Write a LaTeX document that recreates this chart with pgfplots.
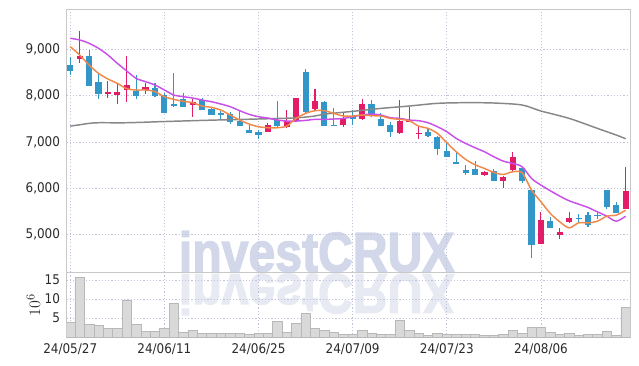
\documentclass[border=0pt]{standalone}
\usepackage{fontspec}
\setmainfont{DejaVu Sans Condensed}
\newfontfamily\wmfont{Liberation Sans Bold}[FakeBold=2.5]
\usepackage{pgfplots}
\usepackage{pgfplotstable}
\pgfplotsset{compat=1.18}
\definecolor{cred}{HTML}{E31C68}
\definecolor{cblue}{HTML}{3396C8}
\definecolor{corange}{HTML}{F0884A}
\definecolor{cpurple}{HTML}{C850E8}
\definecolor{cgray}{HTML}{878787}
\definecolor{axisgray}{HTML}{C8C8C8}
\definecolor{gridc}{HTML}{BEC3DA}
\definecolor{tickc}{HTML}{2A2A2A}
\definecolor{volfill}{HTML}{D9D9D9}
\definecolor{voldraw}{HTML}{B8B8B8}
\definecolor{wm}{HTML}{D2D8EA}
\definecolor{wmtwo}{HTML}{E7E9F3}

% down candles (blue)
\pgfplotstableread{
i o h l c
0 8661 8827 8438 8524
2 8856 8986 8214 8214
3 8294 8467 7933 8034
7 8099 8438 7933 7998
9 8164 8272 7977 7998
10 8013 8049 7631 7631
11 7818 8488 7760 7775
12 7919 8049 7746 7760
14 7905 7941 7688 7696
15 7703 7746 7573 7580
16 7623 7659 7487 7580
17 7602 7652 7393 7436
18 7450 7667 7335 7342
19 7256 7357 7198 7198
20 7213 7256 7061 7148
22 7472 7883 7306 7342
25 8510 8568 7616 7645
27 7868 7883 7342 7342
28 7370 7724 7336 7340
30 7559 7688 7357 7487
32 7818 7905 7544 7559
33 7494 7616 7342 7342
34 7364 7436 7112 7220
38 7213 7270 7097 7126
39 7105 7126 6708 6852
40 6802 6968 6679 6679
41 6557 6751 6514 6528
42 6391 6492 6290 6333
43 6413 6593 6290 6290
45 6377 6413 6153 6153
48 6442 6442 6117 6153
49 5959 5959 4503 4769
51 5288 5382 5144 5144
54 5350 5440 5281 5328
55 5418 5490 5166 5216
56 5420 5476 5346 5398
57 5959 5959 5541 5598
58 5634 5692 5454 5454
}\downT

% up candles (red)
\pgfplotstableread{
i o h l c
1 8791 9389 8712 8856
4 8034 8315 7955 8078
5 8020 8250 7825 8078
6 8121 8856 7854 8229
8 8121 8272 8041 8186
13 7804 7919 7544 7854
21 7220 7400 7205 7357
23 7321 7688 7306 7443
24 7458 7948 7458 7948
26 7710 8135 7688 7883
29 7364 7616 7328 7501
31 7487 7933 7472 7818
35 7198 7905 7169 7450
36 7436 7746 7436 7465
37 7162 7342 7061 7191
44 6283 6377 6261 6355
46 6160 6261 5995 6247
47 6391 6773 6377 6679
50 4791 5483 4791 5310
52 4993 5144 4914 5065
53 5274 5497 5252 5353
59 5541 6449 5541 5937
}\upT

\begin{document}
\begin{tikzpicture}
\useasboundingbox (0,0) rectangle (479.25pt,274.5pt);
% watermark and its reflection
\node[anchor=base west, inner sep=0pt, text=wm, xscale=0.86,
  font=\wmfont\fontsize{42}{42}\selectfont] at (134pt,70.8pt) {investCRUX};
\node[anchor=base west, inner sep=0pt, text=wmtwo, xscale=0.86, yscale=-1,
  font=\wmfont\fontsize{42}{42}\selectfont] at (134pt,68.8pt) {investCRUX};

\begin{axis}[
  at={(50pt,70.3pt)}, anchor=south west, scale only axis,
  width=422.5pt, height=197.25pt,
  xmin=-0.38, xmax=59.46, ymin=4185, ymax=9865,
  axis line style={draw=axisgray},
  xtick={0,10,20,30,40,50}, xticklabels={},
  ytick={5000,6000,7000,8000,9000},
  scaled y ticks=false,
  /pgf/number format/1000 sep={,},
  /pgf/number format/assume math mode=true,
  grid=major, major grid style={dash pattern=on 0.8pt off 1.6pt, draw=gridc, line width=0.55pt},
  major tick length=0pt,
  tick label style={font=\fontsize{10}{12}\selectfont, text=tickc},
  yticklabel style={xshift=-1.5pt},
  clip=true,
]
% wicks and bodies, down candles
\addplot[draw=none, mark=none, forget plot,
  error bars/.cd, y dir=minus, y explicit, error mark=none,
  error bar style={draw=cblue, line width=0.8pt}]
  table[x=i, y=h, y error minus expr={\thisrow{h}-\thisrow{l}}] {\downT};
\addplot[draw=none, mark=none, forget plot,
  error bars/.cd, y dir=minus, y explicit, error mark=none,
  error bar style={draw=cblue, line width=4.6pt}]
  table[x=i, y=o, y error minus expr={\thisrow{o}-\thisrow{c}}] {\downT};
% up candles
\addplot[draw=none, mark=none, forget plot,
  error bars/.cd, y dir=minus, y explicit, error mark=none,
  error bar style={draw=cred, line width=0.8pt}]
  table[x=i, y=h, y error minus expr={\thisrow{h}-\thisrow{l}}] {\upT};
\addplot[draw=none, mark=none, forget plot,
  error bars/.cd, y dir=minus, y explicit, error mark=none,
  error bar style={draw=cred, line width=4.6pt}]
  table[x=i, y=c, y error minus expr={\thisrow{c}-\thisrow{o}}] {\upT};

% long moving average (gray)
\addplot[smooth, mark=none, draw=cgray, line width=1.1pt] coordinates {
(0,7342) (1,7370) (2,7400) (3,7414) (6,7414) (10,7440) (15,7470) (20,7495) (24,7520) (26,7560)
(27,7600) (30,7660) (33,7724) (36,7775) (39,7833) (42,7847) (45,7840) (48,7797)
(50,7667) (53,7508) (56,7292) (58,7148) (59,7069)};
% 20-day (purple)
\addplot[smooth, mark=none, draw=cpurple, line width=1.1pt] coordinates {
(0,9238) (1,9202) (2,9130) (3,9022) (4,8877) (5,8697) (6,8532) (7,8373) (8,8301) (9,8229)
(10,8121) (11,8013) (12,7977) (13,7948) (14,7905) (15,7868) (16,7818) (17,7760) (18,7674)
(19,7595) (20,7544) (21,7515) (22,7472) (23,7450) (24,7450) (25,7465) (26,7487) (27,7487)
(28,7494) (29,7508) (30,7544) (31,7580) (32,7602) (33,7580) (34,7523) (35,7508) (36,7472)
(37,7458) (38,7414) (39,7328) (40,7220) (41,7076) (42,6968) (43,6874) (44,6787) (45,6679)
(46,6585) (47,6535) (48,6463) (49,6211) (50,6067) (51,5944) (52,5829) (53,5728) (54,5656)
(55,5584) (56,5490) (57,5396) (58,5288) (59,5396)};
% 5-day (orange)
\addplot[smooth, mark=none, draw=corange, line width=1.1pt] coordinates {
(0,9058) (1,8877) (2,8661) (3,8481) (4,8359) (5,8265) (6,8150) (7,8121) (8,8121) (9,8085)
(10,7977) (11,7919) (12,7876) (13,7847) (14,7775) (15,7746) (16,7688) (17,7580) (18,7472)
(19,7386) (20,7328) (21,7306) (22,7306) (23,7342) (24,7508) (25,7616) (26,7674) (27,7674)
(28,7616) (29,7559) (30,7559) (31,7580) (32,7566) (33,7559) (34,7508) (35,7487) (36,7458)
(37,7342) (38,7292) (39,7184) (40,6982) (41,6787) (42,6622) (43,6506) (44,6427) (45,6341)
(46,6297) (47,6355) (48,6333) (49,5959) (50,5707) (51,5454) (52,5274) (53,5144) (54,5252)
(55,5252) (56,5288) (57,5396) (58,5418) (59,5526)};
\end{axis}

\begin{axis}[
  at={(50pt,21.5pt)}, anchor=south west, scale only axis,
  width=422.5pt, height=48.75pt,
  xmin=-0.38, xmax=59.46, ymin=0, ymax=17,
  axis line style={draw=axisgray},
  xtick={0,10,20,30,40,50},
  xticklabels={24/05/27,24/06/11,24/06/25,24/07/09,24/07/23,24/08/06},
  ytick={5,10,15},
  /pgf/number format/assume math mode=true,
  grid=major, major grid style={dash pattern=on 0.8pt off 1.6pt, draw=gridc, line width=0.55pt},
  major tick length=0pt,
  tick label style={font=\fontsize{10}{12}\selectfont, text=tickc},
  yticklabel style={xshift=-1.5pt},
  xticklabel style={yshift=-1.5pt},
  ylabel={$10^6$},
  ylabel style={at={(axis description cs:-0.059,0.5)}, anchor=center, text=tickc,
    font=\fontsize{12.5}{14}\selectfont},
]
\addplot[ybar, bar width=1, fill=volfill, draw=voldraw, line width=0.4pt] coordinates {
(0,4.0) (1,15.7) (2,3.4) (3,3.2) (4,2.4) (5,2.4) (6,9.8) (7,3.4) (8,1.6) (9,1.6)
(10,2.4) (11,8.9) (12,1.35) (13,1.9) (14,1.1) (15,1.1) (16,1.1) (17,1.1) (18,1.1) (19,0.8)
(20,1.1) (21,1.1) (22,4.2) (23,1.35) (24,3.7) (25,6.3) (26,2.4) (27,1.9) (28,1.35) (29,0.8)
(30,0.8) (31,1.9) (32,1.1) (33,0.8) (34,0.8) (35,4.5) (36,1.9) (37,1.1) (38,0.55) (39,1.1)
(40,0.8) (41,0.8) (42,0.8) (43,0.8) (44,0.55) (45,0.55) (46,0.8) (47,1.9) (48,1.1) (49,2.7)
(50,2.7) (51,1.35) (52,0.8) (53,1.1) (54,0.55) (55,0.8) (56,0.8) (57,1.6) (58,0.55) (59,7.9)};
\end{axis}
\end{tikzpicture}
\end{document}
